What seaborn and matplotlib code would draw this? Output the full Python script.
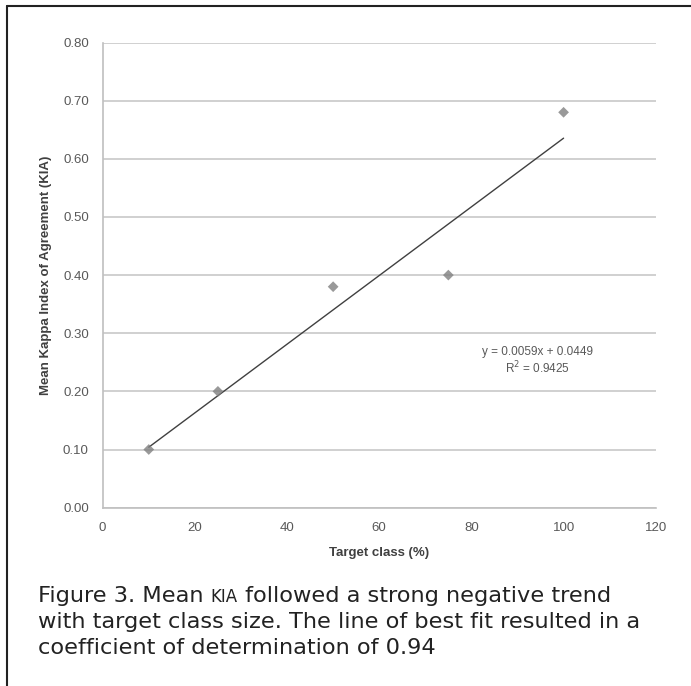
import numpy as np
import pandas as pd
import seaborn as sns
import matplotlib
matplotlib.use("Agg")
from matplotlib import pyplot as plt
from matplotlib.lines import Line2D

# data
target_class = [10, 25, 50, 75, 100]
mean_kia = [0.10, 0.20, 0.38, 0.40, 0.68]
x_ticks = [0, 20, 40, 60, 80, 100, 120]
y_ticks = [0.0, 0.1, 0.2, 0.3, 0.4, 0.5, 0.6, 0.7, 0.8]

df = pd.DataFrame({"target": target_class, "kia": mean_kia})

sns.set_style("white")
plt.rcParams['font.family'] = ['Liberation Sans', 'DejaVu Sans']

W, H = 691, 686
fig = plt.figure(figsize=(W / 100, H / 100), dpi=100)
ax = fig.add_axes([0.1486, 0.260, 0.8004, 0.678])

sns.regplot(data=df, x="target", y="kia", ax=ax, ci=None, marker="D",
            scatter_kws={"s": 30, "color": "#808080", "edgecolor": "none", "zorder": 3},
            line_kws={"color": "#404040", "linewidth": 1.0})

ax.set_xlim(0, 120)
ax.set_ylim(0, 0.8)
ax.set_xticks(x_ticks)
ax.set_yticks(y_ticks)
ax.set_yticklabels([f"{v:.2f}" for v in y_ticks])
ax.grid(axis="y", color="#c8c8c8", linewidth=1.2)
ax.set_axisbelow(True)
for s in ["top", "right"]:
    ax.spines[s].set_visible(False)
for s in ["left", "bottom"]:
    ax.spines[s].set_color("#bfbfbf")
    ax.spines[s].set_linewidth(1.2)
ax.tick_params(axis="both", direction="out", length=4, width=1, color="#bfbfbf",
               labelsize=9.5, labelcolor="#595959", pad=6)
ax.set_xlabel("Target class (%)", fontsize=9.5, fontweight="bold", color="#404040", labelpad=10)
ax.set_ylabel("Mean Kappa Index of Agreement (KIA)", fontsize=9.5, fontweight="bold",
              color="#404040", labelpad=8)

ax.text(94.4, 0.268, "y = 0.0059x + 0.0449", ha="center", va="center", fontsize=8.5, color="#595959")
ax.text(94.4, 0.240, "R$^2$ = 0.9425", ha="center", va="center", fontsize=8.5, color="#595959")

# caption, one text per line; "KIA" in small caps
cap_font = {"family": "DejaVu Sans", "color": "#222222"}
cap_size = 16.2
x0 = 38 / W
baselines = [602, 628, 654]
renderer = fig.canvas.get_renderer()
pieces = [("Figure 3. Mean ", cap_size), ("KIA", 12), (" followed a strong negative trend", cap_size)]
x = x0
for txt, size in pieces:
    t = fig.text(x, 1 - baselines[0] / H, txt, ha="left", va="baseline", fontsize=size, **cap_font)
    x = fig.transFigure.inverted().transform(t.get_window_extent(renderer).get_points())[1][0]
fig.text(x0, 1 - baselines[1] / H, "with target class size. The line of best fit resulted in a",
         ha="left", va="baseline", fontsize=cap_size, **cap_font)
fig.text(x0, 1 - baselines[2] / H, "coefficient of determination of 0.94",
         ha="left", va="baseline", fontsize=cap_size, **cap_font)

# frame around the figure (top and left)
fig.add_artist(Line2D([7 / W, 1], [1 - 6 / H, 1 - 6 / H], color="#222222", linewidth=1.5))
fig.add_artist(Line2D([7 / W, 7 / W], [0, 1 - 6 / H], color="#222222", linewidth=1.5))

fig.savefig("out.png", dpi=100)
